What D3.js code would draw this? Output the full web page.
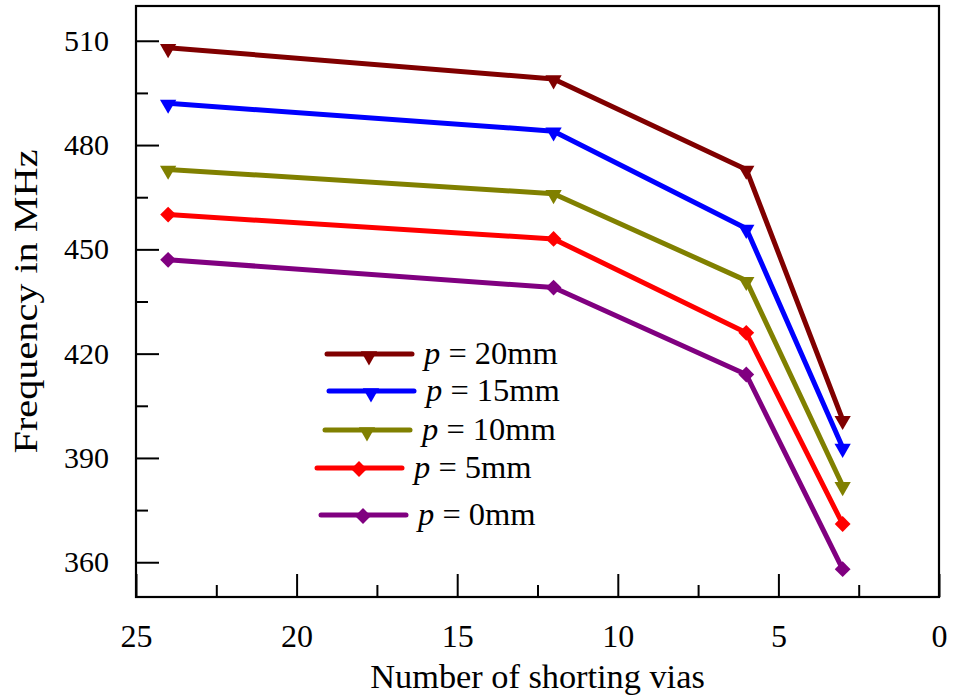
<!DOCTYPE html>
<html>
<head>
<meta charset="utf-8">
<script src="https://cdn.jsdelivr.net/npm/d3@7"></script>
<style>
  body { margin: 0; background: #fff; }
  text { font-family: "Liberation Serif", "Times New Roman", serif; fill: #000; }
</style>
</head>
<body>
<svg id="chart" width="954" height="695"></svg>
<script>
// number of shorting vias on the x axis
var vias = [24, 12, 6, 3];

// resonant frequency (MHz) for each patch offset p
var p20 = [508, 499, 473, 401];
var p15 = [492, 484, 456, 393];
var p10 = [473, 466, 441, 382];
var p5 = [460, 453, 426, 371];
var p0 = [447, 439, 414, 358];

var seriesNames = ["20", "15", "10", "5", "0"];
var xTicks = [25, 20, 15, 10, 5, 0];
var xMinor = [22.5, 17.5, 12.5, 7.5, 2.5];
var yTicks = [360, 390, 420, 450, 480, 510];
var yMinor = [375, 405, 435, 465, 495];

var colors = ["#800000", "#0000ff", "#808000", "#ff0000", "#800080"];
var shapes = ["tri", "tri", "tri", "dia", "dia"];

var M = { left: 136, top: 6, right: 939, bottom: 597 };

var svg = d3.select("#chart");

var x = d3.scaleLinear().domain([25, 0]).range([M.left, M.right]);
var y = d3.scaleLinear().domain([350, 520]).range([M.bottom, M.top]);

var series = [p20, p15, p10, p5, p0].map(function(v, i) {
  return {
    name: seriesNames[i],
    color: colors[i],
    shape: shapes[i],
    points: v.map(function(f, j) { return { n: vias[j], f: f }; })
  };
});

function marker(shape) {
  if (shape === "tri") {
    return d3.symbol().type(d3.symbolTriangle).size(115)();
  }
  return d3.symbol().type(d3.symbolSquare).size(125)();
}
function markerTransform(shape, px, py) {
  if (shape === "tri") {
    return "translate(" + px + "," + (py + 1) + ") rotate(180)";
  }
  return "translate(" + px + "," + py + ") rotate(45)";
}

// axes, ticks pointing inward
var yAxis = d3.axisLeft(y).tickValues(yTicks).tickSizeInner(-23).tickSizeOuter(0).tickPadding(27);
var yAxisMinor = d3.axisLeft(y).tickValues(yMinor).tickSizeInner(-12).tickSizeOuter(0).tickFormat("");
var xAxis = d3.axisBottom(x).tickValues(xTicks).tickSizeInner(-23).tickSizeOuter(0).tickPadding(27);
var xAxisMinor = d3.axisBottom(x).tickValues(xMinor).tickSizeInner(-12).tickSizeOuter(0).tickFormat("");

function styleAxis(g, size) {
  g.select(".domain").remove();
  g.selectAll(".tick line").attr("stroke", "#000").attr("stroke-width", 2);
  g.selectAll(".tick text").style("font-size", size + "px").attr("fill", "#000")
    .style("font-family", '"Liberation Serif", "Times New Roman", serif');
}

svg.append("g").attr("transform", "translate(" + M.left + ",0)").call(yAxis).call(styleAxis, 30);
svg.append("g").attr("transform", "translate(" + M.left + ",0)").call(yAxisMinor).call(styleAxis, 30);
svg.append("g").attr("transform", "translate(0," + M.bottom + ")").call(xAxis).call(styleAxis, 32);
svg.append("g").attr("transform", "translate(0," + M.bottom + ")").call(xAxisMinor).call(styleAxis, 32);

// frame
svg.append("rect")
  .attr("x", M.left).attr("y", M.top)
  .attr("width", M.right - M.left).attr("height", M.bottom - M.top)
  .attr("fill", "none").attr("stroke", "#000").attr("stroke-width", 2.2);

// lines and markers
var line = d3.line()
  .x(function(d) { return x(d.n); })
  .y(function(d) { return y(d.f); });

var groups = svg.selectAll("g.series").data(series).enter().append("g").classed("series", true);

groups.append("path")
  .attr("d", function(s) { return line(s.points); })
  .attr("fill", "none")
  .attr("stroke", function(s) { return s.color; })
  .attr("stroke-width", 5)
  .attr("stroke-linejoin", "round");

groups.selectAll("path.mark").data(function(s) {
  return s.points.map(function(p) { return { p: p, s: s }; });
}).enter().append("path").classed("mark", true)
  .attr("d", function(d) { return marker(d.s.shape); })
  .attr("transform", function(d) { return markerTransform(d.s.shape, x(d.p.n), y(d.p.f)); })
  .attr("fill", function(d) { return d.s.color; });

// legend
var legendX = [327, 329, 325, 317, 321];
var legendY = [354, 391, 430, 468, 515];

var items = svg.selectAll("g.legend").data(series).enter().append("g").classed("legend", true)
  .attr("transform", function(s, i) { return "translate(" + legendX[i] + "," + legendY[i] + ")"; });

items.append("line")
  .attr("x1", 0).attr("x2", 85).attr("y1", 0).attr("y2", 0)
  .attr("stroke", function(s) { return s.color; })
  .attr("stroke-width", 5)
  .attr("stroke-linecap", "round");

items.append("path")
  .attr("d", function(s) { return marker(s.shape); })
  .attr("transform", function(s) { return markerTransform(s.shape, 42, 1); })
  .attr("fill", function(s) { return s.color; });

var lt = items.append("text")
  .attr("x", 97).attr("y", 10)
  .style("font-size", "32.5px");
lt.append("tspan").style("font-style", "italic").text("p");
lt.append("tspan").text(function(s) { return " = " + s.name + "mm"; });

// axis titles
svg.append("text")
  .attr("transform", "translate(" + ((M.left + M.right) / 2) + ",688) scale(1.04,1)")
  .attr("text-anchor", "middle")
  .style("font-size", "33px")
  .text("Number of shorting vias");

svg.append("text")
  .attr("transform", "translate(37," + ((M.top + M.bottom) / 2) + ") rotate(-90) scale(1.22,1)")
  .attr("text-anchor", "middle")
  .style("font-size", "33px")
  .text("Frequency in MHz");
</script>
</body>
</html>
